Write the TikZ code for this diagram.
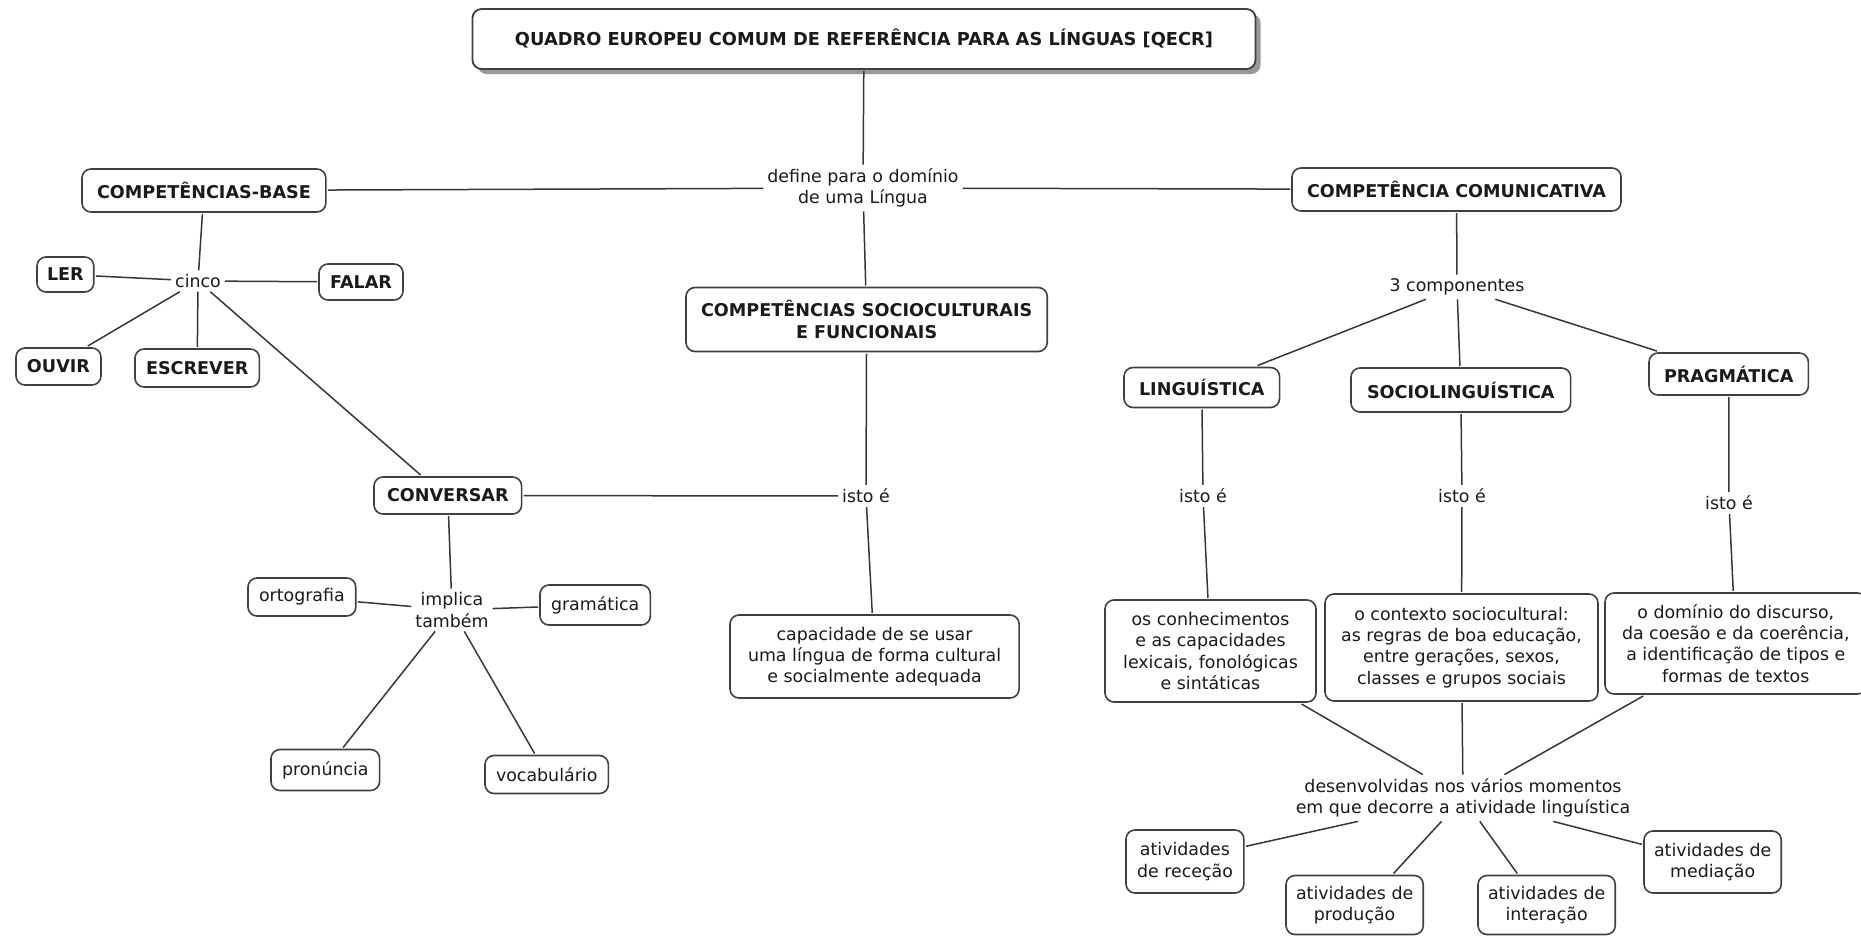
\documentclass[tikz,border=0pt]{standalone}
\usepackage{fontspec}
\setmainfont{DejaVu Sans}
\usetikzlibrary{shadows}
\definecolor{ink}{HTML}{1A1A1A}
\definecolor{edge}{HTML}{363636}
\definecolor{rim}{HTML}{404040}
\begin{document}
\begin{tikzpicture}[x=1pt,y=-1pt,
  every node/.style={text=ink},
  concept/.style={draw=rim, line width=1.6pt, rounded corners=9pt, fill=white,
    align=center, inner xsep=15pt, inner ysep=4pt, outer sep=2pt,
    font=\fontsize{17.6}{21.3}\selectfont\bfseries},
  plainbox/.style={concept, inner xsep=11pt, font=\fontsize{17.4}{21.3}\selectfont},
  h/.style={minimum height=#1pt},
  w/.style={minimum width=#1pt},
  linklabel/.style={align=center, inner sep=3pt, outer sep=1pt,
    font=\fontsize{17.4}{21.3}\selectfont},
  link/.style={draw=edge, line width=1.5pt}
]
\useasboundingbox (0,0) rectangle (1861,937);

% --- top concept ---
\node[concept, w=783, h=60, line width=1.8pt, font=\fontsize{17.8}{21.3}\selectfont\bfseries,
  drop shadow={shadow xshift=5pt, shadow yshift=-5pt, fill=gray!80, opacity=1}]
  (title) at (864,39) {QUADRO EUROPEU COMUM DE REFERÊNCIA PARA AS LÍNGUAS [QECR]};
\node[linklabel] (define) at (863,188) {define para o domínio\\de uma Língua};

% --- main branches ---
\node[concept, h=43, anchor=west] (base) at (80,190.5) {COMPETÊNCIAS-BASE};
\node[concept, h=43, anchor=west] (comun) at (1290,189.5) {COMPETÊNCIA COMUNICATIVA};
\node[concept, h=64, anchor=west] (socfun) at (684,319.5) {COMPETÊNCIAS SOCIOCULTURAIS\\E FUNCIONAIS};
\node[linklabel] (istoC) at (866,496) {isto é};
\node[plainbox, h=83, anchor=west, inner xsep=18pt] (capac) at (728,656.5) {capacidade de se usar\\uma língua de forma cultural\\e socialmente adequada};

% --- competências-base ---
\node[linklabel] (cinco) at (198,281) {cinco};
\node[concept, h=35, anchor=west, inner xsep=10pt] (ler) at (35,274.5) {LER};
\node[concept, h=36, anchor=west, inner xsep=11pt] (falar) at (317,282) {FALAR};
\node[concept, h=37, anchor=west, inner xsep=11pt] (ouvir) at (14,366.5) {OUVIR};
\node[concept, h=38, anchor=west, inner xsep=11pt] (escrever) at (133,368) {ESCREVER};
\node[concept, h=37, anchor=west, inner xsep=13pt] (conv) at (372,495.5) {CONVERSAR};
\node[linklabel] (implica) at (452,610) {implica\\também};
\node[plainbox, h=38, anchor=west] (orto) at (246,597) {ortografia};
\node[plainbox, h=40, anchor=west] (gram) at (538,605) {gramática};
\node[plainbox, h=41, anchor=west] (pron) at (269,770) {pronúncia};
\node[plainbox, h=38, anchor=west] (voca) at (483,774.5) {vocabulário};

% --- competência comunicativa ---
\node[linklabel] (tres) at (1457,287) {3 componentes};
\node[concept, h=40, anchor=west] (ling) at (1122,387.5) {LINGUÍSTICA};
\node[concept, h=44, anchor=west, inner xsep=16pt] (socio) at (1349,390) {SOCIOLINGUÍSTICA};
\node[concept, h=42, anchor=west] (prag) at (1647,374) {PRAGMÁTICA};
\node[linklabel] (istoL) at (1203,496) {isto é};
\node[linklabel] (istoS) at (1462,496) {isto é};
\node[linklabel] (istoP) at (1729,503) {isto é};
\node[plainbox, w=211, h=102, anchor=west, inner xsep=10pt] (descL) at (1103,651)
  {os conhecimentos\\e as capacidades\\lexicais, fonológicas\\e sintáticas};
\node[plainbox, w=273, h=107, anchor=west, inner xsep=10pt] (descS) at (1323,647.5)
  {o contexto sociocultural:\\as regras de boa educação,\\entre gerações, sexos,\\classes e grupos sociais};
\node[plainbox, h=101, anchor=west, inner xsep=17pt] (descP) at (1603,643.5)
  {o domínio do discurso,\\da coesão e da coerência,\\a identificação de tipos e\\formas de textos};
\node[linklabel] (desenv) at (1463,798)
  {desenvolvidas nos vários momentos\\em que decorre a atividade linguística};
\node[plainbox, h=63, anchor=west] (rec) at (1124,861.5) {atividades\\de receção};
\node[plainbox, h=59, anchor=west, inner xsep=10pt] (prod) at (1284,905) {atividades de\\produção};
\node[plainbox, h=59, anchor=west, inner xsep=10pt] (inter) at (1476,905) {atividades de\\interação};
\node[plainbox, h=62, anchor=west, inner xsep=10pt] (med) at (1642,862) {atividades de\\mediação};

% --- connectors ---
\draw[link] (title) -- (define);
\draw[link] (base) -- (define);
\draw[link] (define) -- (comun);
\draw[link] (define) -- (socfun);
\draw[link] (socfun) -- (istoC);
\draw[link] (istoC) -- (capac);
\draw[link] (conv) -- (istoC);

\draw[link] (base) -- (cinco);
\draw[link] (cinco) -- (ler);
\draw[link] (cinco) -- (falar);
\draw[link] (cinco) -- (ouvir.35);
\draw[link] (cinco) -- (escrever);
\draw[link] (cinco) -- (conv.143);
\draw[link] (conv) -- (implica);
\draw[link] (implica) -- (orto);
\draw[link] (implica) -- (gram);
\draw[link] (implica) -- (pron);
\draw[link] (implica) -- (voca);

\draw[link] (comun) -- (tres);
\draw[link] (tres) -- (ling);
\draw[link] (tres) -- (socio);
\draw[link] (tres) -- (prag);
\draw[link] (ling) -- (istoL);
\draw[link] (istoL) -- (descL);
\draw[link] (socio) -- (istoS);
\draw[link] (istoS) -- (descS);
\draw[link] (prag) -- (istoP);
\draw[link] (istoP) -- (descP);
\draw[link] (descL) -- (desenv);
\draw[link] (descS) -- (desenv);
\draw[link] (descP) -- (desenv);
\draw[link] (desenv) -- (rec.14);
\draw[link] (desenv) -- (prod.39);
\draw[link] (desenv) -- (inter.133);
\draw[link] (desenv) -- (med.166);
\end{tikzpicture}
\end{document}
